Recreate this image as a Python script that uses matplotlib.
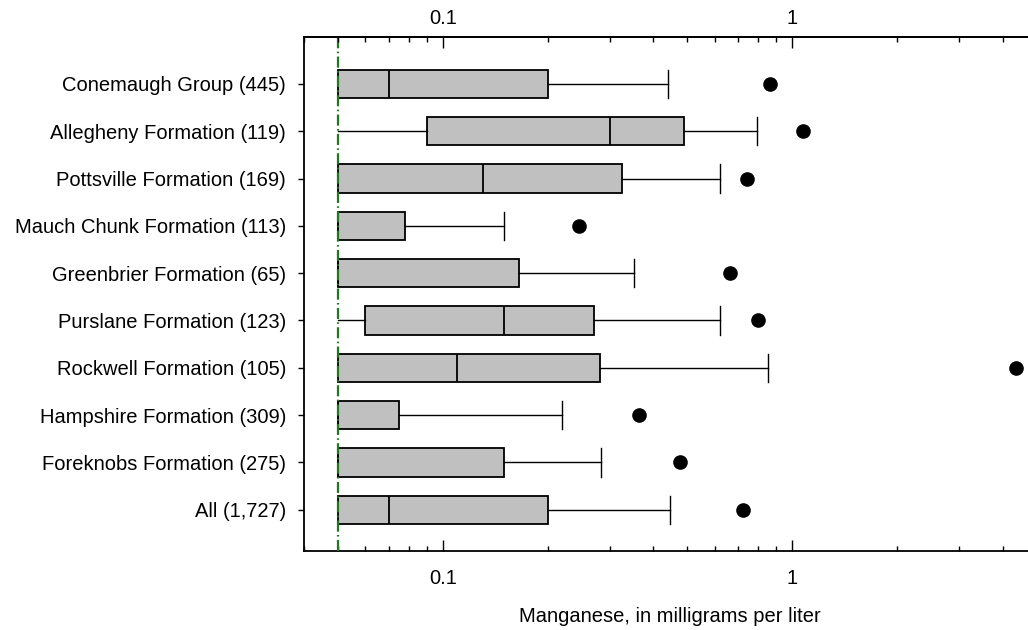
import matplotlib
matplotlib.use("Agg")
import matplotlib.pyplot as plt
from matplotlib.ticker import LogLocator, FixedLocator, NullFormatter, FixedFormatter

plt.rcParams['font.family'] = ['Liberation Sans', 'DejaVu Sans']

labels = ["Conemaugh Group (445)", "Allegheny Formation (119)", "Pottsville Formation (169)",
          "Mauch Chunk Formation (113)", "Greenbrier Formation (65)", "Purslane Formation (123)",
          "Rockwell Formation (105)", "Hampshire Formation (309)", "Foreknobs Formation (275)",
          "All (1,727)"]
whislo = [0.05, 0.05, 0.05, 0.05, 0.05, 0.05, 0.05, 0.05, 0.05, 0.05]
q1     = [0.05, 0.09, 0.05, 0.05, 0.05, 0.06, 0.05, 0.05, 0.05, 0.05]
med    = [0.07, 0.30, 0.13, 0.05, 0.05, 0.15, 0.11, 0.05, 0.05, 0.07]
q3     = [0.20, 0.49, 0.326, 0.078, 0.165, 0.27, 0.282, 0.075, 0.15, 0.20]
whishi = [0.44, 0.79, 0.62, 0.15, 0.353, 0.62, 0.853, 0.219, 0.283, 0.447]
outlier = [0.864, 1.076, 0.741, 0.245, 0.664, 0.797, 4.37, 0.364, 0.477, 0.722]
detection_limit = 0.05
xticks = [0.1, 1]
xticklabels = ['0.1', '1']

FS = 14.5

fig = plt.figure(figsize=(10.28, 6.30), dpi=100)
ax = fig.add_axes([0.2957, 0.1254, 0.7125, 0.8159])

stats = []
for i in range(len(labels)):
    stats.append(dict(whislo=whislo[i], q1=q1[i], med=med[i], q3=q3[i],
                      whishi=whishi[i], fliers=[outlier[i]], label=labels[i]))

pos = list(range(len(labels)))
res = ax.bxp(stats, positions=pos, vert=False, widths=0.6, patch_artist=True,
             boxprops=dict(facecolor='#c0c0c0', edgecolor='black', linewidth=1.3),
             medianprops=dict(color='black', linewidth=1.3),
             whiskerprops=dict(color='black', linewidth=1.0),
             capprops=dict(color='black', linewidth=1.0),
             flierprops=dict(marker='o', markerfacecolor='black', markeredgecolor='black',
                             markersize=9.5, linestyle='none'),
             capwidths=0.6)
# hide lower caps (censored at detection limit)
for i, cap in enumerate(res['caps']):
    if i % 2 == 0:
        cap.set_visible(False)

ax.axvline(detection_limit, color='#1f7a1f', linewidth=1.6,
           linestyle=(0, (5, 1.5, 0.7, 1.5)), zorder=5)

ax.set_xscale('log')
ax.set_xlim(0.04, 5)
ax.set_ylim(9.87, -0.99)

ax.xaxis.set_major_locator(FixedLocator(xticks))
ax.xaxis.set_major_formatter(FixedFormatter(xticklabels))
ax.xaxis.set_minor_locator(LogLocator(base=10, subs=[2, 3, 4, 5, 6, 7, 8, 9]))
ax.xaxis.set_minor_formatter(NullFormatter())
ax.tick_params(axis='x', which='major', direction='in', length=8, width=1,
               top=False, labeltop=False, bottom=True, labelbottom=True, labelsize=FS, pad=13)
ax.tick_params(axis='x', which='minor', direction='in', length=3.5, width=1, top=False, bottom=True)

ax.set_yticks(pos)
ax.set_yticklabels(labels)
ax.tick_params(axis='y', which='major', direction='out', length=4, width=1, labelsize=FS, pad=9)
ax.tick_params(axis='y', which='minor', left=False, right=False)

ax.spines['right'].set_visible(False)
for s in ['left', 'top', 'bottom']:
    ax.spines[s].set_linewidth(1.3)

ax.set_xlabel('Manganese, in milligrams per liter', fontsize=FS, labelpad=14)

# top axis
ax2 = ax.twiny()
ax2.set_xscale('log')
ax2.set_xlim(ax.get_xlim())
ax2.xaxis.set_major_locator(FixedLocator(xticks))
ax2.xaxis.set_major_formatter(FixedFormatter(xticklabels))
ax2.xaxis.set_minor_locator(LogLocator(base=10, subs=[2, 3, 4, 5, 6, 7, 8, 9]))
ax2.xaxis.set_minor_formatter(NullFormatter())
ax2.tick_params(axis='x', which='major', direction='in', length=8, width=1,
                labelsize=FS, pad=6.5)
ax2.tick_params(axis='x', which='minor', direction='in', length=3.5, width=1)
for s in ['right', 'left', 'bottom']:
    ax2.spines[s].set_visible(False)
ax2.spines['top'].set_linewidth(1.3)

fig.savefig('out.png', dpi=100)
